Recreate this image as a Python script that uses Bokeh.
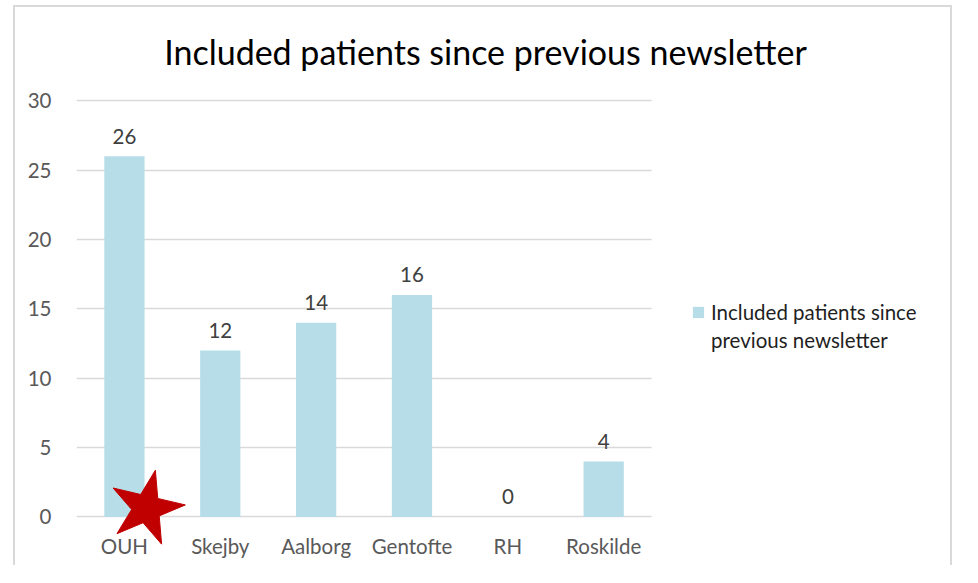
from bokeh.plotting import figure
from bokeh.models import (ColumnDataSource, FixedTicker, Legend, LegendItem,
                          Label, BoxAnnotation, Range1d)
from bokeh.transform import dodge
from bokeh.core.properties import value
from bokeh.embed import file_html
from bokeh.resources import INLINE

categories = ["OUH", "Skejby", "Aalborg", "Gentofte", "RH", "Roskilde"]
patients = [26, 12, 14, 16, 0, 4]
y_ticks = [0, 5, 10, 15, 20, 25, 30]
title_text = "Included patients since previous newsletter"
legend_lines = ["Included patients since", "previous newsletter"]
star_category = ["OUH"]
star_level = [0.63]

FONT = "Lato"
BAR = "#B7DEE8"
N = len(categories)
pos = list(range(N))

src = ColumnDataSource(dict(x=pos, cat=categories, val=patients,
                            lab=[str(v) for v in patients],
                            zero=[0] * N))

# frame spans the whole chart box; plot area = categories, legend area to the right
p = figure(x_range=Range1d(-0.5, N - 0.5 + 3.16), y_range=Range1d(-3.5, 36.72),
           width=939, height=560, output_backend="svg", toolbar_location=None,
           min_border_left=61, min_border_right=0, min_border_top=0,
           min_border_bottom=2)
p.styles = {"margin-left": "13px", "margin-top": "5px",
            "border": "2px solid #D9D9D9", "border-bottom": "none"}
p.outline_line_color = None
p.background_fill_color = "white"
p.border_fill_color = "white"

bars = p.vbar(x="x", top="val", bottom=0, width=0.42, source=src,
              fill_color=BAR, line_color=None)
dummy = p.vbar(x=[], top=[], width=0.42, fill_alpha=0, line_alpha=0)

# value labels
p.text(x="x", y="val", text="lab", source=src, text_align="center",
       text_baseline="alphabetic", y_offset=-20, text_font=value(FONT),
       text_font_size="20.5px", text_color="#404040")

# category labels
p.text(x="x", y="zero", text="cat", source=src, text_align="center",
       text_baseline="alphabetic", y_offset=29, text_font=value(FONT),
       text_font_size="20.5px", text_color="#595959")

# red star annotation
star_idx = [categories.index(c) for c in star_category]
star_src = ColumnDataSource(dict(x=star_idx, y=star_level))
p.scatter(x=dodge("x", 0.23), y="y", source=star_src,
          marker="star", size=78, angle=-0.23, fill_color="#C00000",
          line_color="#C00000")

p.xaxis.visible = False
p.yaxis.ticker = FixedTicker(ticks=y_ticks)
p.yaxis.axis_line_color = None
p.yaxis.major_tick_line_color = None
p.yaxis.minor_tick_line_color = None
p.yaxis.major_label_standoff = 19
p.yaxis.major_label_text_font = FONT
p.yaxis.major_label_text_font_size = "20.5px"
p.yaxis.major_label_text_color = "#595959"

p.xgrid.visible = False
p.ygrid.ticker = FixedTicker(ticks=y_ticks)
p.ygrid.grid_line_color = "#D9D9D9"
p.ygrid.grid_line_width = 1.4

# keep gridlines inside the category area only
p.add_layout(BoxAnnotation(left=N - 0.5, fill_color="white", fill_alpha=1,
                           line_color=None, level="underlay"))

p.add_layout(Label(x=409, y=514, x_units="screen", y_units="screen",
                   text=title_text, text_align="center",
                   text_baseline="middle", text_font=FONT,
                   text_font_size="34px", text_color="#000000"))

legend = Legend(items=[LegendItem(label=legend_lines[0], renderers=[bars]),
                       LegendItem(label=legend_lines[1], renderers=[dummy])],
                location=(615, 213), margin=0, padding=0, spacing=3,
                glyph_width=14, glyph_height=14, label_standoff=6,
                label_height=25,
                label_text_font=FONT, label_text_font_size="20.5px",
                label_text_color="#1F1F1F", border_line_color=None,
                background_fill_alpha=0)
p.add_layout(legend)

open("out.html", "w").write(file_html(p, INLINE))
